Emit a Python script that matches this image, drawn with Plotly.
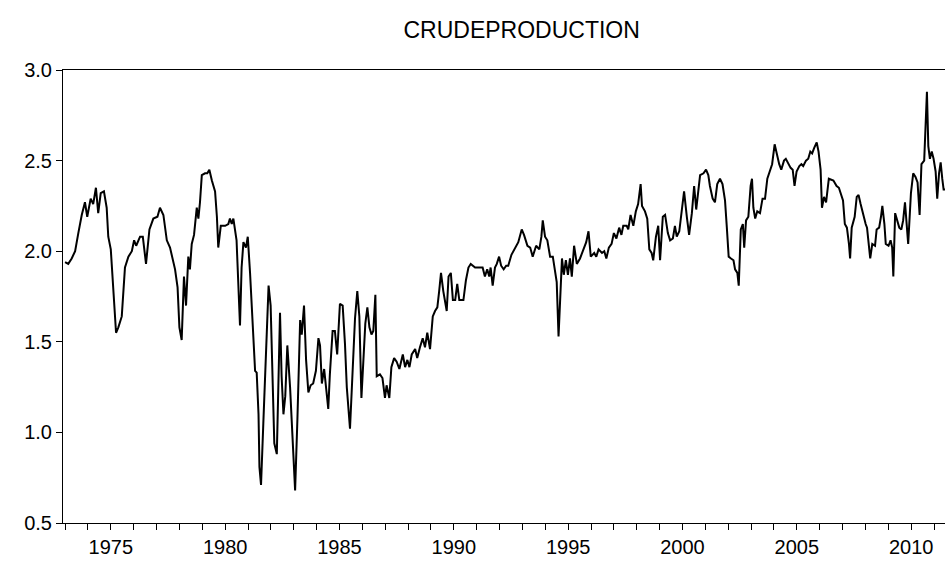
import plotly.graph_objects as go

years = [
    1973.00, 1973.14, 1973.29, 1973.44, 1973.58, 1973.73, 1973.87, 1973.97, 1974.12, 1974.23,
    1974.35, 1974.45, 1974.56, 1974.70, 1974.82, 1974.89, 1975.00, 1975.11, 1975.23, 1975.33,
    1975.48, 1975.62, 1975.77, 1975.92, 1976.02, 1976.11, 1976.28, 1976.40, 1976.54, 1976.69,
    1976.86, 1977.04, 1977.15, 1977.30, 1977.45, 1977.59, 1977.81, 1977.92, 1978.00, 1978.10,
    1978.20, 1978.29, 1978.39, 1978.46, 1978.54, 1978.64, 1978.76, 1978.83, 1978.90, 1978.98,
    1979.12, 1979.22, 1979.31, 1979.42, 1979.56, 1979.64, 1979.70, 1979.81, 1980.00, 1980.14,
    1980.21, 1980.29, 1980.36, 1980.50, 1980.58, 1980.65, 1980.72, 1980.80, 1980.91, 1980.99,
    1981.09, 1981.21, 1981.31, 1981.38, 1981.46, 1981.50, 1981.57, 1981.67, 1981.82, 1981.90,
    1981.99, 1982.07, 1982.15, 1982.26, 1982.33, 1982.40, 1982.47, 1982.55, 1982.63, 1982.72,
    1982.84, 1982.96, 1983.06, 1983.16, 1983.28, 1983.35, 1983.45, 1983.54, 1983.64, 1983.74,
    1983.85, 1983.97, 1984.08, 1984.15, 1984.23, 1984.33, 1984.41, 1984.51, 1984.58, 1984.70,
    1984.80, 1984.90, 1985.02, 1985.14, 1985.24, 1985.32, 1985.46, 1985.58, 1985.68, 1985.78,
    1985.87, 1985.96, 1986.04, 1986.13, 1986.22, 1986.31, 1986.40, 1986.48, 1986.57, 1986.63,
    1986.77, 1986.88, 1986.99, 1987.06, 1987.18, 1987.27, 1987.39, 1987.50, 1987.62, 1987.77,
    1987.87, 1987.97, 1988.06, 1988.16, 1988.31, 1988.40, 1988.52, 1988.64, 1988.74, 1988.84,
    1988.96, 1989.08, 1989.18, 1989.28, 1989.36, 1989.44, 1989.54, 1989.63, 1989.69, 1989.77,
    1989.87, 1989.96, 1990.06, 1990.15, 1990.24, 1990.42, 1990.53, 1990.64, 1990.74, 1990.93,
    1991.12, 1991.26, 1991.36, 1991.46, 1991.55, 1991.61, 1991.70, 1991.80, 1991.88, 1991.98,
    1992.07, 1992.18, 1992.29, 1992.38, 1992.52, 1992.68, 1992.82, 1992.97, 1993.07, 1993.22,
    1993.34, 1993.45, 1993.60, 1993.74, 1993.83, 1993.89, 1993.99, 1994.09, 1994.21, 1994.33,
    1994.43, 1994.50, 1994.58, 1994.67, 1994.73, 1994.81, 1994.90, 1994.99, 1995.08, 1995.16,
    1995.26, 1995.38, 1995.52, 1995.67, 1995.79, 1995.89, 1995.99, 1996.14, 1996.23, 1996.33,
    1996.48, 1996.58, 1996.67, 1996.78, 1996.90, 1997.00, 1997.11, 1997.23, 1997.33, 1997.41,
    1997.56, 1997.63, 1997.73, 1997.85, 1997.96, 1998.06, 1998.17, 1998.23, 1998.36, 1998.46,
    1998.55, 1998.65, 1998.72, 1998.84, 1998.94, 1999.02, 1999.14, 1999.24, 1999.36, 1999.46,
    1999.58, 1999.67, 1999.75, 1999.86, 1999.97, 2000.07, 2000.19, 2000.29, 2000.41, 2000.51,
    2000.60, 2000.67, 2000.77, 2000.92, 2001.03, 2001.13, 2001.20, 2001.32, 2001.42, 2001.52,
    2001.64, 2001.75, 2001.86, 2001.94, 2002.02, 2002.12, 2002.23, 2002.30, 2002.40, 2002.46,
    2002.55, 2002.64, 2002.70, 2002.78, 2002.88, 2002.98, 2003.04, 2003.10, 2003.18, 2003.27,
    2003.39, 2003.50, 2003.61, 2003.71, 2003.84, 2003.92, 2004.03, 2004.15, 2004.23, 2004.32,
    2004.44, 2004.52, 2004.64, 2004.73, 2004.82, 2004.90, 2004.99, 2005.11, 2005.20, 2005.28,
    2005.40, 2005.50, 2005.59, 2005.67, 2005.76, 2005.87, 2005.95, 2006.04, 2006.10, 2006.19,
    2006.28, 2006.40, 2006.60, 2006.74, 2006.84, 2006.94, 2007.02, 2007.10, 2007.19, 2007.28,
    2007.33, 2007.40, 2007.53, 2007.62, 2007.70, 2007.79, 2007.90, 2008.01, 2008.07, 2008.14,
    2008.21, 2008.30, 2008.42, 2008.49, 2008.60, 2008.68, 2008.74, 2008.83, 2008.89, 2009.01,
    2009.10, 2009.17, 2009.22, 2009.30, 2009.39, 2009.48, 2009.57, 2009.65, 2009.73, 2009.80,
    2009.87, 2009.99, 2010.09, 2010.19, 2010.28, 2010.37, 2010.45, 2010.57, 2010.69, 2010.75,
    2010.82, 2010.90, 2010.98, 2011.07, 2011.14, 2011.22, 2011.29, 2011.36, 2011.42, 2011.48,
]

crude_production = [
    1.94, 1.93, 1.96, 2.00, 2.10, 2.20, 2.27, 2.19, 2.29, 2.26,
    2.35, 2.21, 2.32, 2.33, 2.24, 2.08, 2.01, 1.78, 1.55, 1.58,
    1.64, 1.91, 1.97, 2.00, 2.06, 2.03, 2.08, 2.08, 1.93, 2.12,
    2.18, 2.19, 2.24, 2.20, 2.06, 2.02, 1.90, 1.80, 1.58, 1.51,
    1.86, 1.70, 1.97, 1.90, 2.04, 2.09, 2.24, 2.18, 2.27, 2.42,
    2.43, 2.43, 2.45, 2.39, 2.33, 2.19, 2.02, 2.14, 2.14, 2.15,
    2.18, 2.15, 2.18, 2.06, 1.78, 1.59, 1.91, 2.05, 2.02, 2.08,
    1.88, 1.58, 1.34, 1.33, 1.10, 0.81, 0.71, 1.05, 1.51, 1.81,
    1.70, 1.23, 0.94, 0.88, 1.34, 1.66, 1.31, 1.10, 1.20, 1.48,
    1.25, 0.94, 0.68, 1.07, 1.62, 1.54, 1.70, 1.40, 1.22, 1.26,
    1.27, 1.34, 1.52, 1.48, 1.27, 1.35, 1.25, 1.13, 1.32, 1.56,
    1.56, 1.43, 1.71, 1.70, 1.49, 1.25, 1.02, 1.34, 1.63, 1.78,
    1.64, 1.19, 1.42, 1.60, 1.69, 1.58, 1.54, 1.56, 1.76, 1.31,
    1.32, 1.30, 1.19, 1.26, 1.19, 1.36, 1.41, 1.39, 1.35, 1.43,
    1.36, 1.40, 1.36, 1.43, 1.46, 1.41, 1.47, 1.52, 1.47, 1.55,
    1.46, 1.64, 1.67, 1.69, 1.78, 1.88, 1.78, 1.72, 1.67, 1.86,
    1.88, 1.73, 1.73, 1.82, 1.73, 1.73, 1.84, 1.91, 1.93, 1.91,
    1.91, 1.91, 1.86, 1.90, 1.86, 1.91, 1.81, 1.91, 1.93, 1.97,
    1.92, 1.90, 1.92, 1.92, 1.98, 2.02, 2.05, 2.12, 2.09, 2.03,
    2.02, 1.97, 2.03, 2.01, 2.08, 2.17, 2.08, 2.06, 1.97, 1.97,
    1.90, 1.83, 1.53, 1.86, 1.96, 1.87, 1.95, 1.87, 1.96, 1.86,
    2.03, 1.93, 1.96, 2.01, 2.05, 2.11, 1.97, 1.99, 1.97, 2.01,
    1.99, 2.00, 1.96, 2.02, 2.04, 2.10, 2.07, 2.13, 2.09, 2.14,
    2.14, 2.12, 2.20, 2.14, 2.22, 2.26, 2.37, 2.25, 2.22, 2.18,
    2.01, 1.99, 1.95, 2.08, 2.14, 1.95, 2.19, 2.20, 2.10, 2.06,
    2.07, 2.14, 2.08, 2.11, 2.24, 2.33, 2.19, 2.09, 2.21, 2.36,
    2.23, 2.31, 2.42, 2.43, 2.45, 2.42, 2.36, 2.29, 2.27, 2.37,
    2.40, 2.37, 2.28, 2.13, 1.97, 1.96, 1.95, 1.90, 1.88, 1.81,
    2.12, 2.15, 2.02, 2.17, 2.19, 2.36, 2.40, 2.24, 2.18, 2.22,
    2.21, 2.29, 2.29, 2.40, 2.45, 2.48, 2.59, 2.52, 2.48, 2.45,
    2.50, 2.51, 2.48, 2.46, 2.45, 2.36, 2.44, 2.47, 2.48, 2.47,
    2.50, 2.51, 2.55, 2.54, 2.57, 2.60, 2.55, 2.45, 2.24, 2.30,
    2.27, 2.40, 2.39, 2.36, 2.35, 2.31, 2.28, 2.15, 2.13, 2.04,
    1.96, 2.13, 2.19, 2.30, 2.31, 2.26, 2.20, 2.15, 2.13, 2.05,
    1.96, 2.04, 2.03, 2.12, 2.13, 2.19, 2.25, 2.15, 2.04, 2.03,
    2.06, 2.02, 1.86, 2.21, 2.17, 2.13, 2.12, 2.17, 2.27, 2.15,
    2.04, 2.32, 2.43, 2.41, 2.38, 2.20, 2.48, 2.50, 2.88, 2.58,
    2.51, 2.55, 2.51, 2.44, 2.29, 2.43, 2.49, 2.40, 2.34, 2.34,
]

x_tick_values = [1975, 1980, 1985, 1990, 1995, 2000, 2005, 2010]
x_tick_labels = ["1975", "1980", "1985", "1990", "1995", "2000", "2005", "2010"]
y_tick_values = [0.5, 1.0, 1.5, 2.0, 2.5, 3.0]
y_tick_labels = ["0.5", "1.0", "1.5", "2.0", "2.5", "3.0"]

FONT = "Liberation Sans, Arial, Helvetica, sans-serif"

fig = go.Figure()
fig.add_trace(go.Scatter(
    x=years, y=crude_production, mode="lines",
    line=dict(color="black", width=2),
    showlegend=False,
))

fig.update_layout(
    width=945, height=561,
    margin=dict(l=63, r=0, t=70, b=38),
    paper_bgcolor="white", plot_bgcolor="white",
    title=dict(text="CRUDEPRODUCTION", x=0.552, xref="container", xanchor="center",
               y=1 - 30 / 561, yref="container", yanchor="middle",
               font=dict(family=FONT, size=23, color="black")),
    font=dict(family=FONT, size=20, color="black"),
)

fig.update_xaxes(
    range=[1972.91, 2011.48],
    tickvals=x_tick_values, ticktext=x_tick_labels,
    ticks="outside", ticklen=6, tickwidth=1, tickcolor="black",
    minor=dict(dtick=1, tick0=1973, ticks="outside", ticklen=6, tickwidth=1, tickcolor="black", showgrid=False),
    showline=True, linecolor="black", linewidth=1, mirror=True,
    showgrid=False, zeroline=False,
    tickfont=dict(family=FONT, size=20, color="black"),
)
fig.update_yaxes(
    range=[0.5, 3.0],
    tickvals=y_tick_values, ticktext=y_tick_labels,
    ticks="outside", ticklen=6, tickwidth=1, tickcolor="black",
    showline=True, linecolor="black", linewidth=1, mirror=False,
    showgrid=False, zeroline=False,
    tickfont=dict(family=FONT, size=20, color="black"),
)

fig.write_html("out.html", config={"displayModeBar": False},
               post_script="document.body.style.margin='0';")
